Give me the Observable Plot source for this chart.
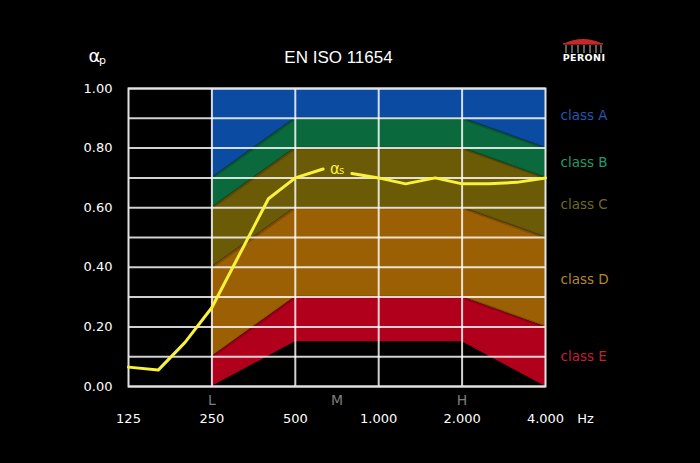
<!DOCTYPE html>
<html><head><meta charset="utf-8">
<script src="https://cdn.jsdelivr.net/npm/d3@7"></script>
<script src="https://cdn.jsdelivr.net/npm/@observablehq/plot@0.6"></script>
<style>
html,body{margin:0;padding:0;background:#000;}
#chart{position:relative;width:700px;height:463px;}
#logo{position:absolute;left:0;top:0;}
</style></head><body><div id="chart"></div>
<script>
// Class band boundaries (ISO 11654 reference curve shifted), at octave bands
const bandFreqs = [250, 500, 1000, 2000, 4000];
const topEdge = [1.00, 1.00, 1.00, 1.00, 1.00];
const boundA = [0.70, 0.90, 0.90, 0.90, 0.80];
const boundB = [0.60, 0.80, 0.80, 0.80, 0.70];
const boundC = [0.40, 0.60, 0.60, 0.60, 0.50];
const boundD = [0.10, 0.30, 0.30, 0.30, 0.20];
const boundE = [0.00, 0.15, 0.15, 0.15, 0.00];
const classNames = ["class A", "class B", "class C", "class D", "class E"];
const classColors = ["#0c4ba2", "#0a6a3d", "#6b5a06", "#9b6004", "#b1001b"];
const labelColors = ["#2456b4", "#1f9e6c", "#6f6a1c", "#b4872e", "#c31f3e"];
const labelLevels = [0.91, 0.75, 0.61, 0.36, 0.10];

// Measured practical absorption coefficient alpha_s
const freqs = [125, 160, 200, 250, 400, 500, 630, 800, 1000, 1250, 1600, 2000, 2500, 3150, 4000];
const alphaS = [0.065, 0.055, 0.148, 0.265, 0.63, 0.70, 0.73, 0.715, 0.70, 0.68, 0.70, 0.68, 0.68, 0.685, 0.70];
const lineSegment = [1, 1, 1, 1, 1, 1, 1, 2, 2, 2, 2, 2, 2, 2, 2];
const alphaLabelFreq = 630;

const xTicks = [125, 250, 500, 1000, 2000, 4000];
const xTickLabels = ["125", "250", "500", "1.000", "2.000", "4.000"];
const yTicks = [0, 0.2, 0.4, 0.6, 0.8, 1.0];
const yTickLabels = ["0.00", "0.20", "0.40", "0.60", "0.80", "1.00"];
const yGrid = [0, 0.1, 0.2, 0.3, 0.4, 0.5, 0.6, 0.7, 0.8, 0.9, 1.0];
const xGrid = [250, 500, 1000, 2000];
const rangeLabels = ["L", "M", "H"];
const rangeFreqs = [250, 707, 2000];

const uppers = [topEdge, boundA, boundB, boundC, boundD];
const lowers = [boundA, boundB, boundC, boundD, boundE];
const bandRows = classNames.map((c, i) => bandFreqs.map((f, j) => ({cls: c, f, lo: lowers[i][j], hi: uppers[i][j]})));
const lineRows = freqs.map((f, i) => ({f, a: alphaS[i], seg: lineSegment[i]}));
const labelRow = lineRows.filter(d => d.f === alphaLabelFreq);
const rangeRows = rangeLabels.map((l, i) => ({label: l, f: rangeFreqs[i]}));
const xTickRows = xTicks.map((f, i) => ({f, label: xTickLabels[i]}));
const yTickRows = yTicks.map((v, i) => ({v, label: yTickLabels[i]}));

const font = "DejaVu Sans, Verdana, sans-serif";
const chart = Plot.plot({
  width: 700, height: 463,
  marginLeft: 128, marginRight: 155, marginTop: 88, marginBottom: 77,
  style: {background: "#000", color: "#fff", fontFamily: font, fontSize: "13px"},
  x: {type: "log", domain: [125, 4000], axis: null},
  y: {domain: [0, 1], axis: null},
  marks: [
    ...bandRows.map((rows, i) => Plot.areaY(rows, {x: "f", y1: "lo", y2: "hi", fill: classColors[i]})),
    ...bandRows.slice(1).map(rows => Plot.line(rows, {x: "f", y: "hi", stroke: "#000", strokeOpacity: 0.18, strokeWidth: 3})),
    Plot.ruleY(yGrid, {stroke: "#fff", strokeOpacity: 0.82, strokeWidth: 2}),
    Plot.ruleX(xGrid, {stroke: "#fff", strokeOpacity: 0.82, strokeWidth: 2}),
    Plot.frame({stroke: "#e4e4e4", strokeWidth: 2}),
    Plot.line(lineRows, {x: "f", y: "a", z: "seg", stroke: "#f8f23a", strokeWidth: 3}),
    Plot.text(labelRow, {x: "f", y: "a", text: () => "α", dx: 7, dy: 0, textAnchor: "start", fill: "#f8f23a", fontSize: 15}),
    Plot.text(labelRow, {x: "f", y: "a", text: () => "s", dx: 16, dy: 2, textAnchor: "start", fill: "#f8f23a", fontSize: 10}),
    Plot.text(yTickRows, {y: "v", text: "label", frameAnchor: "left", dx: -16, textAnchor: "end", lineAnchor: "middle", fill: "#fff", fontSize: 13}),
    Plot.text(xTickRows, {x: "f", text: "label", frameAnchor: "bottom", dy: 32, textAnchor: "middle", lineAnchor: "middle", fill: "#fff", fontSize: 13}),
    Plot.text(["Hz"], {frameAnchor: "bottom-right", dx: 40, dy: 32, textAnchor: "middle", lineAnchor: "middle", fill: "#fff", fontSize: 13}),
    Plot.text(rangeRows, {x: "f", frameAnchor: "bottom", dy: 14, text: "label", textAnchor: "middle", lineAnchor: "middle", fill: "#7d7d7d", fontSize: 14}),
    ...classNames.map((c, i) => Plot.text([c], {frameAnchor: "right", y: () => labelLevels[i], dx: 15, textAnchor: "start", lineAnchor: "middle", fill: labelColors[i], fontSize: 13.5})),
    Plot.text(["EN ISO 11654"], {frameAnchor: "top", dx: 1.5, dy: -31, textAnchor: "middle", lineAnchor: "middle", fill: "#fff", fontSize: 17, fontFamily: "Liberation Sans, Arial, sans-serif"}),
    Plot.text(["α"], {frameAnchor: "top-left", dx: -40, dy: -32, textAnchor: "start", lineAnchor: "middle", fill: "#fff", fontSize: 18}),
    Plot.text(["p"], {frameAnchor: "top-left", dx: -29.5, dy: -28, textAnchor: "start", lineAnchor: "middle", fill: "#fff", fontSize: 11})
  ]
});
const host = document.getElementById("chart");
host.appendChild(chart);
// decorative brand logo
host.insertAdjacentHTML("beforeend", `<svg id="logo" width="700" height="463" style="pointer-events:none">
  <path d="M563,44 Q583,34 603,44 Z" fill="#c62828"/>
  <rect x="563" y="43" width="40" height="1.6" fill="#c62828"/>
  ${[566,572,578,584,590,596,601].map(x => `<rect x="${x-0.6}" y="45" width="1.2" height="8" fill="#a0a0a0"/>`).join("")}
  <text x="584" y="61" text-anchor="middle" fill="#fff" font-family="DejaVu Sans, sans-serif" font-weight="bold" font-size="9.5" letter-spacing="0.4">PERONI</text>
</svg>`);
</script></body></html>
